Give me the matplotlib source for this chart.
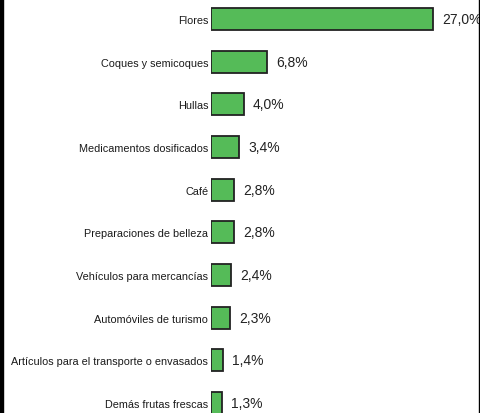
import matplotlib.pyplot as plt
from matplotlib.patches import Rectangle

# productos y participación (%)
productos = ['Flores', 'Coques y semicoques', 'Hullas', 'Medicamentos dosificados',
             'Café', 'Preparaciones de belleza', 'Vehículos para mercancías',
             'Automóviles de turismo', 'Artículos para el transporte o envasados',
             'Demás frutas frescas']
participacion = [27.0, 6.8, 4.0, 3.4, 2.8, 2.8, 2.4, 2.3, 1.4, 1.3]
etiquetas = ['27,0%', '6,8%', '4,0%', '3,4%', '2,8%', '2,8%', '2,4%', '2,3%', '1,4%', '1,3%']

plt.rcParams['font.family'] = ['Liberation Sans', 'DejaVu Sans']

fig = plt.figure(figsize=(4.81, 4.14), dpi=100)
ax = fig.add_axes([211 / 481, 0, 1 - 211 / 481, 1])

pos = list(range(len(productos)))
ax.barh(pos, participacion, height=0.52, color='#55bb58', edgecolor='#222222', linewidth=1.3)

for y, v, t in zip(pos, participacion, etiquetas):
    ax.text(v + 1.1, y, t, va='center', ha='left', fontsize=10, color='#222222')

ax.set_yticks(pos)
ax.set_yticklabels(productos, fontsize=7.8, color='#1a1a1a')
ax.tick_params(axis='y', length=0, pad=2)
ax.set_xticks([])
ax.set_xlim(0, 32.8)
ax.set_ylim(9.234, -0.469)
for s in ax.spines.values():
    s.set_visible(False)

# bordes oscuros de la captura
fig.patches.append(Rectangle((0, 0), 3 / 481, 1, transform=fig.transFigure, color='black'))
fig.patches.append(Rectangle((479 / 481, 0), 2 / 481, 1, transform=fig.transFigure, color='black'))

fig.savefig('out.png', dpi=100)
